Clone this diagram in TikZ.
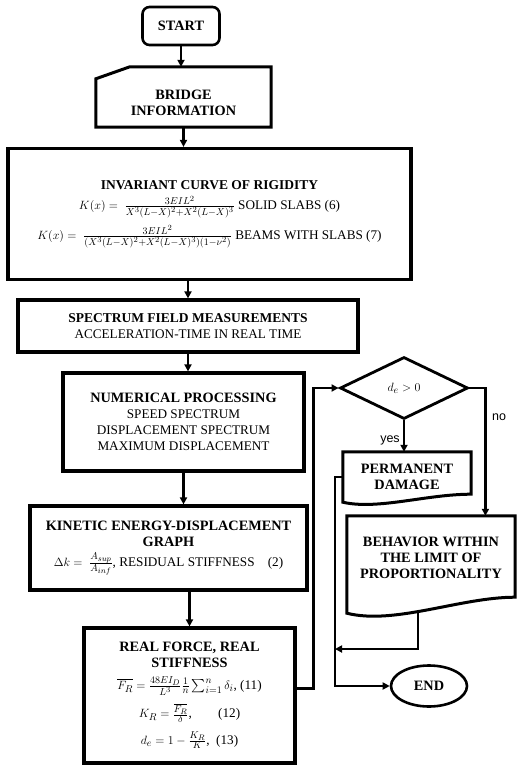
\documentclass[tikz,border=0pt]{standalone}
\usepackage{amsmath}
\usepackage{amssymb}
\usepackage{fontspec}
\setmainfont{Liberation Serif}
\newfontfamily\yesnofont{Liberation Sans}
\DeclareMathSizes{13.2}{13.2}{9.6}{7.6}
\usetikzlibrary{arrows.meta,shapes.geometric}

\begin{document}
\begin{tikzpicture}[x=1pt,y=-1pt,
    box/.style={draw,line width=3.2pt,align=center,inner sep=0pt,
        font=\fontsize{13.2}{16}\selectfont},
    plain/.style={align=center,inner sep=0pt,font=\fontsize{14.3}{16}\selectfont\bfseries},
    border/.style={line width=3pt,line join=miter},
    arr/.style={line width=2.4pt,-{Triangle[length=7pt,width=7pt]}},
    yesno/.style={font=\yesnofont\fontsize{12.5}{14}\selectfont,inner sep=0pt}]
    \useasboundingbox (0,0) rectangle (526,770);

    \node[draw,rounded corners=7pt,line width=2.6pt,minimum width=77,minimum height=38,
        font=\fontsize{14.3}{16}\selectfont\bfseries] (start) at (181,26) {START};

    \node[minimum width=175,minimum height=60,inner sep=0pt] (bridge) at (183.5,97) {};
    \draw[border] (bridge.south west) -- ([shift={(0,12)}]bridge.north west)
        -- ([shift={(34,0)}]bridge.north west) -- (bridge.north east)
        -- (bridge.south east) -- cycle;
    \node[plain] (bridgetext) at ([shift={(0,6)}]bridge.center) {BRIDGE\\INFORMATION};

    \node[box,minimum width=403,minimum height=131] (inv) at (209.5,214) {%
        {\fontsize{13.5}{16}\selectfont\bfseries INVARIANT CURVE OF RIGIDITY}\\[4pt]
        $K(x) =\ \frac{3EIL^2}{X^3(L-X)^2+X^2(L-X)^3}$ SOLID SLABS (6)\\[7pt]
        $K(x) =\ \frac{3EIL^2}{(X^3(L-X)^2+X^2(L-X)^3)(1-\nu^2)}$ BEAMS WITH SLABS (7)};

    \node[box,minimum width=340,minimum height=52] (spec) at (188,326) {%
        {\fontsize{13.5}{16}\selectfont\bfseries SPECTRUM FIELD MEASUREMENTS}\\
        ACCELERATION-TIME IN REAL TIME};

    \node[box,minimum width=241,minimum height=98] (num) at (183.5,422) {%
        {\fontsize{14.3}{16}\selectfont\bfseries NUMERICAL PROCESSING}\\
        SPEED SPECTRUM\\
        DISPLACEMENT SPECTRUM\\
        MAXIMUM DISPLACEMENT};

    \node[box,minimum width=277,minimum height=84] (kin) at (168.5,548) {%
        {\fontsize{14.3}{16}\selectfont\bfseries KINETIC ENERGY-DISPLACEMENT}\\
        {\fontsize{14.3}{16}\selectfont\bfseries GRAPH}\\[4pt]
        $\Delta k =\ \frac{A_{sup}}{A_{inf}}$, RESIDUAL STIFFNESS\quad (2)};

    \node[box,minimum width=211,minimum height=135] (real) at (189.5,695.5) {%
        {\fontsize{14.3}{16}\selectfont\bfseries REAL FORCE, REAL}\\
        {\fontsize{14.3}{16}\selectfont\bfseries STIFFNESS}\\[6pt]
        $\overline{F_R} = \frac{48EI_D}{L^3}\frac{1}{n}\sum_{i=1}^{n}\delta_i$, (11)\\[7pt]
        $K_R = \frac{\overline{F_R}}{\delta}$,\qquad (12)\\[8pt]
        $d_e = 1-\frac{K_R}{K}$,\ \ (13)};

    \node[diamond,draw,line width=2.8pt,minimum width=128,minimum height=62,inner sep=0pt,
        font=\fontsize{13.2}{16}\selectfont] (cond) at (404,388) {$d_e>0$};

    \node[plain,minimum width=128,minimum height=50] (dmg) at (407,477) {PERMANENT\\DAMAGE};
    \draw[border] (dmg.south west) -- (dmg.north west) -- (dmg.north east)
        -- ([shift={(0,-8)}]dmg.south east)
        .. controls ([shift={(-45,-8)}]dmg.south east) and ([shift={(35,8)}]dmg.south west) ..
        (dmg.south west) -- cycle;

    \node[plain,minimum width=168,minimum height=84] (lim) at (431,558)
        {BEHAVIOR WITHIN\\THE LIMIT OF\\PROPORTIONALITY};
    \draw[border] ([shift={(0,13)}]lim.south west) -- (lim.north west) -- (lim.north east)
        -- ([shift={(0,-3)}]lim.south east)
        .. controls ([shift={(-55,-3)}]lim.south east) and ([shift={(48,25)}]lim.south west) ..
        ([shift={(0,13)}]lim.south west) -- cycle;

    \node[ellipse,draw,line width=2.6pt,minimum width=76,minimum height=41,
        font=\fontsize{14.3}{16}\selectfont\bfseries] (end) at (429,686) {END};

    \draw[arr] (start.south) -- (start.south |- bridge.north);
    \draw[arr] (bridge.south) -- (bridge.south |- inv.north);
    \draw[arr] (spec.north |- inv.south) -- (spec.north);
    \draw[arr] (spec.south) -- (spec.south |- num.north);
    \draw[arr] (num.south) -- (num.south |- kin.north);
    \draw[arr] (real.north |- kin.south) -- (real.north);
    \draw[arr] ([shift={(0,-7)}]real.east) -- ++(17,0) |- (cond.west);
    \draw[arr] (cond.south) -- (cond.south |- dmg.north);
    \draw[arr] (cond.east) -- ++(16,0) coordinate (nocorner) -- (nocorner |- lim.north);
    \coordinate (merge) at (335,649);
    \draw[arr] ([shift={(-13,12)}]lim.south) |- (merge);
    \draw[arr] (dmg.west) -| (merge) |- (end.west);

    \node[yesno] (yes) at (390,440) {yes};
    \node[yesno] (no) at (499,417) {no};
\end{tikzpicture}
\end{document}
